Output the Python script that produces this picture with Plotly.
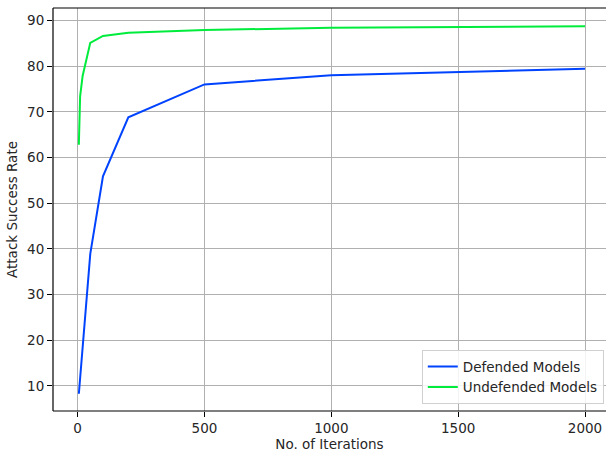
import plotly.graph_objects as go

# Attack success rate vs. number of attack iterations
iters_defended = [5, 50, 100, 200, 500, 1000, 2000]
asr_defended = [8.3, 38.9, 55.9, 68.8, 76.0, 78.0, 79.4]

iters_undefended = [5, 10, 20, 50, 100, 200, 500, 1000, 2000]
asr_undefended = [62.8, 73.4, 77.9, 85.1, 86.6, 87.3, 87.9, 88.4, 88.7]

x_ticks = [0, 500, 1000, 1500, 2000]
y_ticks = [10, 20, 30, 40, 50, 60, 70, 80, 90]

FONT = "DejaVu Sans"
BLUE = "#0043ff"
GREEN = "#00ec3c"
TEXT = "#262626"

fig = go.Figure()
fig.add_trace(go.Scatter(
    x=iters_defended, y=asr_defended, mode="lines",
    name="Defended Models", line=dict(color=BLUE, width=2),
))
fig.add_trace(go.Scatter(
    x=iters_undefended, y=asr_undefended, mode="lines",
    name="Undefended Models", line=dict(color=GREEN, width=2),
))

axis_common = dict(
    showgrid=True, gridcolor="#b0b0b0", gridwidth=1.1,
    zeroline=False, automargin=False,
    showline=False,
    ticks="outside", ticklen=5, tickwidth=1.1, tickcolor="black",
    tickfont=dict(family=FONT, size=13.5, color=TEXT),
)

fig.update_xaxes(
    **axis_common,
    range=[-96.9, 2082.7],
    tickvals=x_ticks,
    title=dict(text="No. of Iterations", font=dict(family=FONT, size=13.5, color=TEXT), standoff=12),
)
fig.update_yaxes(
    **axis_common,
    range=[4.52, 92.72],
    tickvals=y_ticks,
    title=dict(text="Attack Success Rate", font=dict(family=FONT, size=13.5, color=TEXT), standoff=6),
)

# frame: left, bottom and top edges (open on the right)
frame = dict(type="line", xref="paper", yref="paper",
             line=dict(color="black", width=1.2), layer="above")
fig.add_shape(x0=0, x1=1, y0=1, y1=1, **frame)
fig.add_shape(x0=0, x1=1, y0=0, y1=0, **frame)
fig.add_shape(x0=0, x1=0, y0=0, y1=1, **frame)

fig.update_layout(
    width=606, height=452, autosize=False,
    margin=dict(l=53, r=0, t=8, b=41),
    plot_bgcolor="white", paper_bgcolor="white",
    font=dict(family=FONT, size=13.5, color=TEXT),
    legend=dict(
        x=0.996, y=0.017, xanchor="right", yanchor="bottom",
        bgcolor="rgba(255,255,255,0.85)",
        bordercolor="#d0d0d0", borderwidth=1,
        font=dict(family=FONT, size=13.5, color=TEXT),
        tracegroupgap=0, itemwidth=30,
    ),
    showlegend=True,
)

fig.write_html("out.html")
